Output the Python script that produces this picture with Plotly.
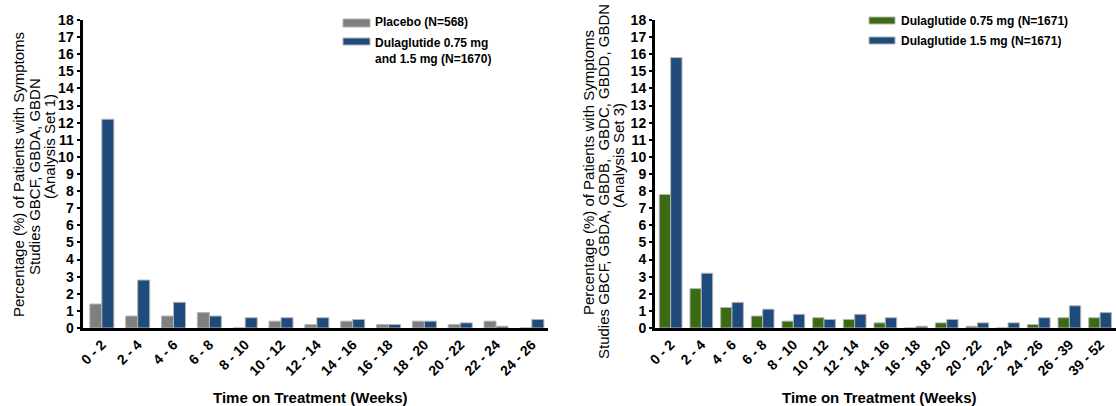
import plotly.graph_objects as go

W, H = 1116, 406

# ---------------- data ----------------
cats_left = ["0 - 2", "2 - 4", "4 - 6", "6 - 8", "8 - 10", "10 - 12", "12 - 14",
             "14 - 16", "16 - 18", "18 - 20", "20 - 22", "22 - 24", "24 - 26"]
placebo = [1.4, 0.7, 0.7, 0.9, 0.0, 0.4, 0.2, 0.4, 0.2, 0.4, 0.2, 0.4, 0.0]
dula_all = [12.2, 2.8, 1.5, 0.7, 0.6, 0.6, 0.6, 0.5, 0.2, 0.4, 0.3, 0.1, 0.5]

cats_right = ["0 - 2", "2 - 4", "4 - 6", "6 - 8", "8 - 10", "10 - 12", "12 - 14",
              "14 - 16", "16 - 18", "18 - 20", "20 - 22", "22 - 24", "24 - 26",
              "26 - 39", "39 - 52"]
dula_075 = [7.8, 2.3, 1.2, 0.7, 0.4, 0.6, 0.5, 0.3, 0.0, 0.3, 0.1, 0.0, 0.2, 0.6, 0.6]
dula_15 = [15.8, 3.2, 1.5, 1.1, 0.8, 0.5, 0.8, 0.6, 0.1, 0.5, 0.3, 0.3, 0.6, 1.3, 0.9]

names_left = ["Placebo (N=568)", "Dulaglutide 0.75 mg<br>and 1.5 mg (N=1670)"]
names_right = ["Dulaglutide 0.75 mg (N=1671)", "Dulaglutide 1.5 mg (N=1671)"]

ytitle_left = ["Percentage (%) of Patients with Symptoms",
               "Studies GBCF, GBDA, GBDN",
               "(Analysis Set 1)"]
ytitle_right = ["Percentage (%) of Patients with Symptoms",
                "Studies GBCF, GBDA, GBDB,  GBDC, GBDD, GBDN",
                "(Analysis Set 3)"]
xtitle = "Time on Treatment (Weeks)"

# ---------------- style ----------------
GRAY = "#7f7f7f"
BLUE = "#1f4a7c"
GREEN = "#3b6b10"
EDGE = "#b4b4b4"
FONT = "Arial, Liberation Sans, sans-serif"

def py(p):
    return 1 - p / H

def px(p):
    return p / W

fig = go.Figure()

wl = 0.335
wr = 0.37
fig.add_trace(go.Bar(x=list(range(len(cats_left))), y=placebo, name=names_left[0],
                     marker=dict(color=GRAY, line=dict(color=EDGE, width=1)),
                     width=wl, offset=-wl, xaxis="x", yaxis="y", showlegend=False))
fig.add_trace(go.Bar(x=list(range(len(cats_left))), y=dula_all, name=names_left[1],
                     marker=dict(color=BLUE, line=dict(color=EDGE, width=1)),
                     width=wl, offset=0, xaxis="x", yaxis="y", showlegend=False))
fig.add_trace(go.Bar(x=list(range(len(cats_right))), y=dula_075, name=names_right[0],
                     marker=dict(color=GREEN, line=dict(color=EDGE, width=1)),
                     width=wr, offset=-wr, xaxis="x2", yaxis="y2", showlegend=False))
fig.add_trace(go.Bar(x=list(range(len(cats_right))), y=dula_15, name=names_right[1],
                     marker=dict(color=BLUE, line=dict(color=EDGE, width=1)),
                     width=wr, offset=0, xaxis="x2", yaxis="y2", showlegend=False))

ydom = [py(328), py(20)]
yax = dict(range=[0, 18], dtick=1, tick0=0, showgrid=False, zeroline=False,
           showline=True, linecolor="black", linewidth=3, ticks="outside",
           ticklen=3, tickwidth=2, tickcolor="black", automargin=False,
           tickfont=dict(family=FONT, size=14, color="black", weight="bold"),
           domain=ydom)
xax = dict(showgrid=False, zeroline=False, showline=True, linecolor="black",
           linewidth=3, ticks="", tickangle=-45, automargin=False,
           tickfont=dict(family=FONT, size=14, color="black", weight="bold"))

fig.update_layout(
    width=W, height=H, margin=dict(l=0, r=0, t=0, b=0, autoexpand=False),
    paper_bgcolor="white", plot_bgcolor="white",
    barmode="overlay", showlegend=False,
    xaxis=dict(xax, domain=[px(82.5), px(548)], range=[-0.54, 12.45],
               tickmode="array", tickvals=list(range(len(cats_left))), ticktext=cats_left,
               anchor="y"),
    yaxis=dict(yax, anchor="x"),
    xaxis2=dict(xax, domain=[px(655), 1.0], range=[-0.51, 14.52],
                tickmode="array", tickvals=list(range(len(cats_right))), ticktext=cats_right,
                anchor="y2"),
    yaxis2=dict(yax, anchor="x2"),
)

ann = []
# y titles
for txt, cx, cy in zip(ytitle_left, [18, 34, 50], [175, 177, 147]):
    ann.append(dict(text=txt, x=px(cx), y=py(cy), xref="paper", yref="paper",
                    textangle=-90, showarrow=False, xanchor="center", yanchor="middle",
                    font=dict(family=FONT, size=15, color="black")))
for txt, cx, cy in zip(ytitle_right, [588, 603, 618], [173, 182, 156]):
    ann.append(dict(text=txt, x=px(cx), y=py(cy), xref="paper", yref="paper",
                    textangle=-90, showarrow=False, xanchor="center", yanchor="middle",
                    font=dict(family=FONT, size=15, color="black")))
# x titles
for cx in [310, 879]:
    ann.append(dict(text=xtitle, x=px(cx), y=py(397), xref="paper", yref="paper",
                    showarrow=False, xanchor="center", yanchor="middle",
                    font=dict(family=FONT, size=15, color="black", weight="bold")))

# legends (swatches + text)
shapes = []
leg = [
    (343, 370, 19, 27, GRAY, 373, 22.5, names_left[0]),
    (343, 370, 38, 45, BLUE, 373, 51, names_left[1]),
    (869, 895, 17, 24, GREEN, 899, 21, names_right[0]),
    (869, 895, 37, 44, BLUE, 899, 41, names_right[1]),
]
for x0, x1, y0, y1, col, tx, ty, txt in leg:
    shapes.append(dict(type="rect", xref="paper", yref="paper",
                       x0=px(x0), x1=px(x1), y0=py(y1), y1=py(y0),
                       fillcolor=col, line=dict(color=EDGE, width=1)))
    ann.append(dict(text=txt, x=px(tx), y=py(ty), xref="paper", yref="paper",
                    showarrow=False, xanchor="left", yanchor="middle", align="left",
                    font=dict(family=FONT, size=12, color="black", weight="bold")))

fig.update_layout(annotations=ann, shapes=shapes)
fig.write_html("out.html", config={"displayModeBar": False},
               post_script="document.body.style.margin='0';document.body.style.overflow='hidden';")
